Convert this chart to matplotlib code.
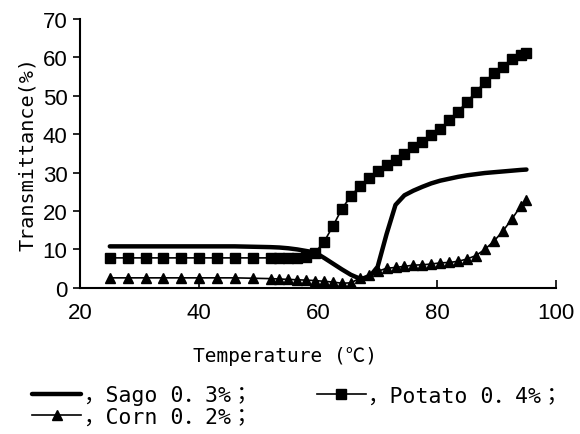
import matplotlib
matplotlib.use("Agg")
import matplotlib.pyplot as plt

# temperatures (C) where the readings were taken
temp = [25, 28, 31, 34, 37, 40, 43, 46, 49, 52, 53.5, 55, 56.5, 58, 59.5,
        61, 62.5, 64, 65.5, 67, 68.5, 70, 71.5, 73, 74.5, 76, 77.5, 79,
        80.5, 82, 83.5, 85, 86.5, 88, 89.5, 91, 92.5, 94, 95]

sago = [10.8, 10.8, 10.8, 10.8, 10.8, 10.8, 10.8, 10.8, 10.7, 10.6, 10.5,
        10.3, 10.0, 9.6, 9.2, 7.8, 6.3, 4.8, 3.4, 2.4, 2.6, 5.5, 14.0, 21.6,
        24.1, 25.3, 26.3, 27.2, 27.9, 28.4, 28.9, 29.3, 29.6, 29.9, 30.1,
        30.3, 30.5, 30.7, 30.8]

potato = [7.8, 7.8, 7.8, 7.8, 7.8, 7.8, 7.8, 7.8, 7.8, 7.8, 7.8, 7.7, 7.7,
          8.0, 9.2, 12.0, 16.1, 20.6, 23.9, 26.5, 28.6, 30.4, 32.0, 33.4,
          34.9, 36.6, 38.1, 39.7, 41.4, 43.6, 45.9, 48.4, 51.0, 53.6, 55.9,
          57.6, 59.6, 60.7, 61.1]

corn = [2.6, 2.6, 2.6, 2.6, 2.6, 2.6, 2.6, 2.6, 2.5, 2.4, 2.3, 2.2, 2.1,
        2.0, 1.9, 1.7, 1.5, 1.2, 1.3, 2.5, 3.4, 4.3, 5.1, 5.3, 5.6, 5.9,
        6.0, 6.2, 6.5, 6.6, 6.9, 7.5, 8.4, 10.0, 12.1, 14.7, 17.8, 21.2, 23.0]

labels = ["，Sago 0．3%；", "，Potato 0．4%；", "，Corn 0．2%；"]

cjk = ["DejaVu Sans Mono", "Noto Sans CJK JP"]
narrow = ["Liberation Sans Narrow", "Liberation Sans"]

fig = plt.figure(figsize=(5.8, 4.35), dpi=100)
ax = fig.add_axes([0.138, 0.336, 0.821, 0.618])

l1, = ax.plot(temp, sago, color="black", lw=3.2, solid_capstyle="round")
l2, = ax.plot(temp, potato, color="black", lw=1.2, marker="s", ms=6.5)
l3, = ax.plot(temp, corn, color="black", lw=1.2, marker="^", ms=7)

ax.set_xlim(20, 100)
ax.set_ylim(0, 70)
ax.set_xticks([20, 40, 60, 80, 100])
ax.set_yticks(range(0, 71, 10))
for s in ["top", "right"]:
    ax.spines[s].set_visible(False)
for s in ["left", "bottom"]:
    ax.spines[s].set_linewidth(1.5)
ax.tick_params(axis="x", direction="in", length=6, width=1.2, pad=10)
ax.tick_params(axis="y", direction="out", length=5, width=1.2, pad=4)
for t in ax.get_xticklabels() + ax.get_yticklabels():
    t.set_family(narrow)
    t.set_fontsize(16)

ax.set_xlabel("Temperature (℃)", family=cjk, fontsize=14)
ax.xaxis.set_label_coords(0.43, -0.215)
ax.set_ylabel("Transmittance(%)", family=cjk, fontsize=14.5, labelpad=4)

# matplotlib fills legend columns first: col 1 = Sago, Corn; col 2 = Potato
leg = fig.legend([l1, l3, l2], [labels[0], labels[2], labels[1]],
                 loc="upper left", bbox_to_anchor=(0.055, 0.112), ncol=2,
                 frameon=False, prop={"family": cjk, "size": 15.5},
                 handlelength=2.3, handletextpad=0.1, columnspacing=3.0,
                 labelspacing=0.08, borderaxespad=0, borderpad=0)

fig.savefig("out.png", dpi=100)
